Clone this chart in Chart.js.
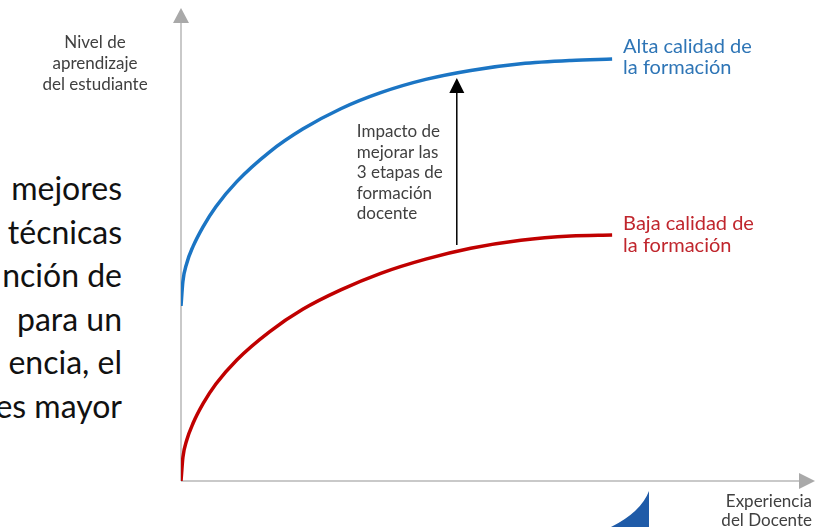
<!DOCTYPE html>
<html lang="es">
<head>
  <meta charset="UTF-8">
  <title>Impacto de la formación docente</title>
  <style>
    body { margin: 0; background: #fff; }
    .wrap { position: relative; width: 833px; height: 527px; overflow: hidden; }
    .texto {
      position: absolute;
      right: 711px;
      top: 166px;
      font-family: Lato, "Open Sans", sans-serif;
      font-size: 32px;
      line-height: 43.5px;
      color: #111;
      text-align: right;
      white-space: pre;
    }
    canvas { position: absolute; left: 0; top: 0; }
  </style>
</head>
<body>
<div class="wrap">
  <div class="texto" id="texto"></div>
  <canvas id="myChart" width="833" height="527"></canvas>
</div>
<script src="https://cdn.jsdelivr.net/npm/chart.js"></script>
<script>
// experiencia del docente (unidades relativas)
const experiencia = [0, 0.3, 0.9, 1.9, 3.5, 5.5, 8.8, 14.0, 19.2, 25.2, 31.5, 38.6, 45.7, 53.6, 61.5, 68.0];
// nivel de aprendizaje
const altaCalidad = [37.0, 42.2, 46.0, 49.6, 53.8, 58.0, 63.3, 69.6, 74.4, 78.7, 82.1, 84.9, 86.8, 88.2, 88.9, 89.2];
const bajaCalidad = [0, 5.0, 8.6, 12.2, 16.4, 20.5, 25.6, 31.6, 36.3, 40.4, 43.9, 46.9, 49.2, 50.9, 51.8, 52.0];

// flecha de impacto
const impactoX = 43.5;
const impactoDesde = 49.9;
const impactoHasta = 85.2;

const etiquetaY = ['Nivel de', 'aprendizaje', 'del estudiante'];
const etiquetaX = ['Experiencia', 'del Docente'];
const etiquetaAlta = ['Alta calidad de', 'la formación'];
const etiquetaBaja = ['Baja calidad de', 'la formación'];
const etiquetaImpacto = ['Impacto de', 'mejorar las', '3 etapas de', 'formación', 'docente'];
const textoDiapositiva = ['mejores', 'técnicas', 'nción de', 'para un', 'encia, el', 'es mayor'];

document.getElementById('texto').textContent = textoDiapositiva.join('\n');

const FONT = 'Lato, "Open Sans", sans-serif';

function lines(ctx, arr, x, y, lh) {
  arr.forEach((t, i) => ctx.fillText(t, x, y + i * lh));
}

const decor = {
  id: 'decor',
  beforeDatasetsDraw(chart) {
    const { ctx, scales: { x, y } } = chart;
    const x0 = x.getPixelForValue(0), y0 = y.getPixelForValue(0);
    const xEnd = x.getPixelForValue(x.max), yEnd = y.getPixelForValue(y.max);
    ctx.save();
    ctx.strokeStyle = '#C9C9C9';
    ctx.lineWidth = 2;
    ctx.beginPath();
    ctx.moveTo(x0, y0);
    ctx.lineTo(x0, yEnd + 14);
    ctx.moveTo(x0, y0);
    ctx.lineTo(xEnd - 14, y0);
    ctx.stroke();
    ctx.fillStyle = '#A9A9A9';
    ctx.beginPath();
    ctx.moveTo(x0, yEnd);
    ctx.lineTo(x0 - 8, yEnd + 15);
    ctx.lineTo(x0 + 8, yEnd + 15);
    ctx.closePath();
    ctx.fill();
    ctx.beginPath();
    ctx.moveTo(xEnd, y0);
    ctx.lineTo(xEnd - 16, y0 - 8);
    ctx.lineTo(xEnd - 16, y0 + 8);
    ctx.closePath();
    ctx.fill();
    ctx.restore();
  },
  afterDatasetsDraw(chart) {
    const { ctx, scales: { x, y } } = chart;
    const x0 = x.getPixelForValue(0), y0 = y.getPixelForValue(0);
    const yEnd = y.getPixelForValue(y.max);
    ctx.save();

    // flecha de impacto
    const ax = x.getPixelForValue(impactoX);
    const aTop = y.getPixelForValue(impactoHasta);
    const aBot = y.getPixelForValue(impactoDesde);
    ctx.strokeStyle = '#000';
    ctx.lineWidth = 1.5;
    ctx.beginPath();
    ctx.moveTo(ax, aBot);
    ctx.lineTo(ax, aTop + 12);
    ctx.stroke();
    ctx.fillStyle = '#000';
    ctx.beginPath();
    ctx.moveTo(ax, aTop);
    ctx.lineTo(ax - 7.5, aTop + 15);
    ctx.lineTo(ax + 7.5, aTop + 15);
    ctx.closePath();
    ctx.fill();

    ctx.textBaseline = 'middle';
    ctx.font = '17px ' + FONT;
    ctx.fillStyle = '#404040';
    ctx.textAlign = 'center';
    lines(ctx, etiquetaY, x0 - 86, yEnd + 35, 21);
    ctx.textAlign = 'left';
    lines(ctx, etiquetaImpacto, ax - 100, 131.5, 20.6);
    ctx.textAlign = 'right';
    lines(ctx, etiquetaX, x.getPixelForValue(x.max) - 3, y0 + 21, 19);

    // etiquetas de series
    ctx.textAlign = 'left';
    ctx.font = '20px ' + FONT;
    const last = experiencia.length - 1;
    const ex = x.getPixelForValue(experiencia[last]) + 11;
    ctx.fillStyle = '#2E75B6';
    lines(ctx, etiquetaAlta, ex, y.getPixelForValue(altaCalidad[last]) - 13, 21.7);
    ctx.fillStyle = '#C0262D';
    lines(ctx, etiquetaBaja, ex, y.getPixelForValue(bajaCalidad[last]) - 11.5, 22.5);

    // detalle del logo abajo
    ctx.fillStyle = '#1F5BA8';
    ctx.beginPath();
    ctx.moveTo(611, 527);
    ctx.quadraticCurveTo(641, 512, 649, 491);
    ctx.lineTo(649, 527);
    ctx.closePath();
    ctx.fill();
    ctx.restore();
  }
};

const ctx = document.getElementById('myChart').getContext('2d');
new Chart(ctx, {
  type: 'scatter',
  data: {
    datasets: [{
      label: 'Alta calidad de la formación',
      data: experiencia.map((v, i) => ({ x: v, y: altaCalidad[i] })),
      showLine: true,
      borderColor: '#1B75C4',
      borderWidth: 3.5,
      pointRadius: 0,
      cubicInterpolationMode: 'monotone'
    }, {
      label: 'Baja calidad de la formación',
      data: experiencia.map((v, i) => ({ x: v, y: bajaCalidad[i] })),
      showLine: true,
      borderColor: '#C00000',
      borderWidth: 3.5,
      pointRadius: 0,
      cubicInterpolationMode: 'monotone'
    }]
  },
  options: {
    responsive: false,
    animation: false,
    layout: { padding: { left: 181, right: 18, top: 8, bottom: 46 } },
    plugins: { legend: { display: false }, tooltip: { enabled: false } },
    scales: {
      x: { type: 'linear', min: 0, max: 100, display: false },
      y: { type: 'linear', min: 0, max: 100, display: false }
    }
  },
  plugins: [decor]
});
</script>
</body>
</html>
